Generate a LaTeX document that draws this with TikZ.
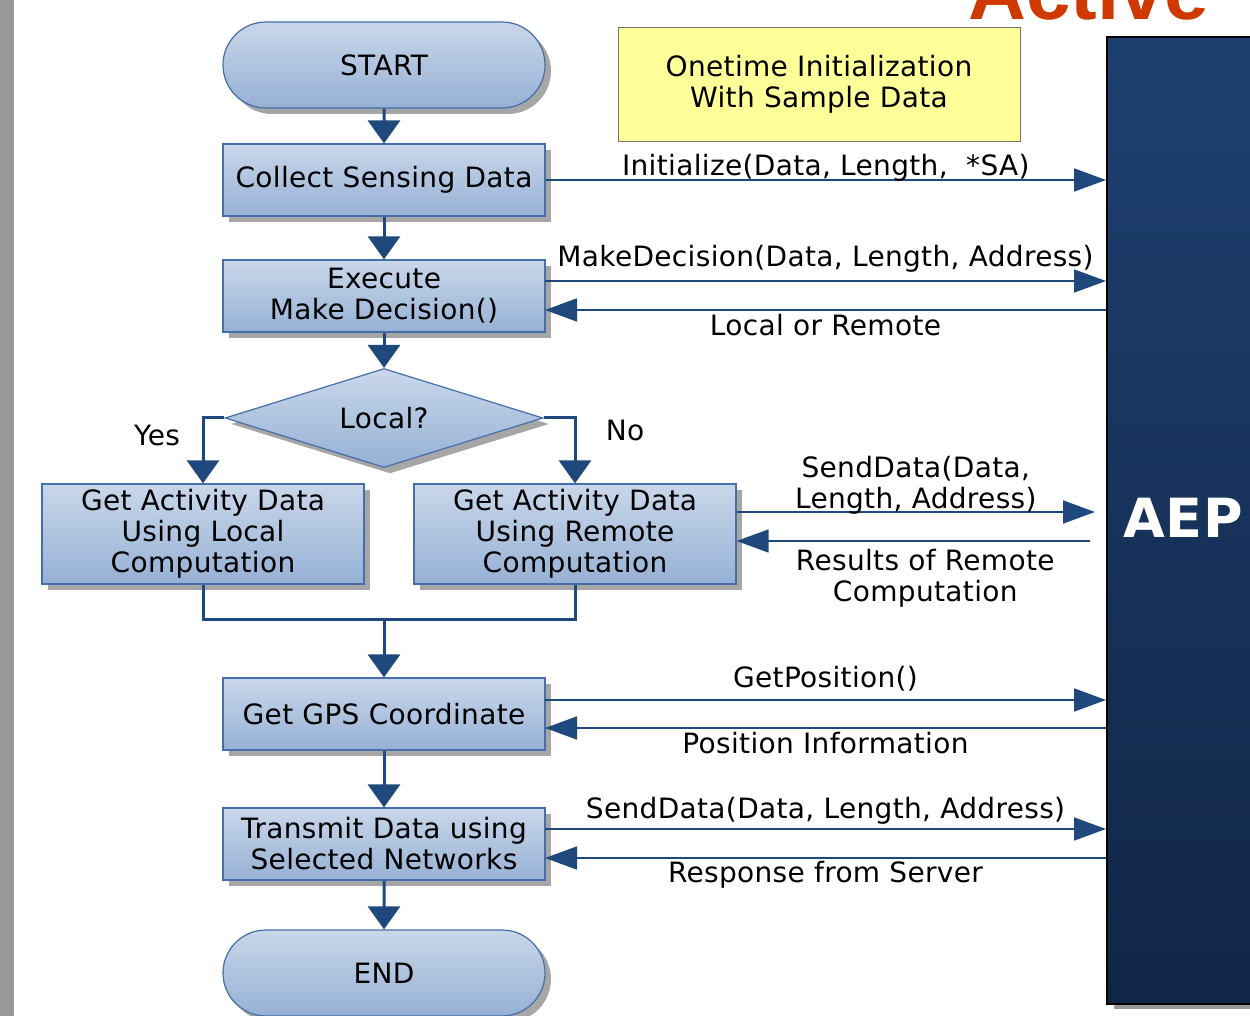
\documentclass[tikz,border=0pt]{standalone}
\usepackage{fontspec}
\setmainfont[LetterSpace=1.2]{DejaVu Sans}
\newfontfamily\titlefont{Liberation Sans}
\usetikzlibrary{arrows.meta}
\usetikzlibrary{shapes.geometric}
\usetikzlibrary{shapes.misc}
\usetikzlibrary{shadows}
\usetikzlibrary{positioning}
\definecolor{flowblue}{RGB}{31,73,125}
\definecolor{edgeblue}{RGB}{70,110,170}
\definecolor{boxtop}{RGB}{201,215,234}
\definecolor{boxbottom}{RGB}{150,177,213}
\definecolor{notefill}{RGB}{255,255,153}
\definecolor{aeptop}{RGB}{30,64,112}
\definecolor{aepbottom}{RGB}{17,38,70}
\definecolor{titlered}{RGB}{207,57,0}
\definecolor{sidegray}{RGB}{153,153,153}
\tikzset{flow/.style = {draw=flowblue, line width=1.5pt, -{Triangle[length=11.5pt, width=16pt]}}}
\tikzset{joinline/.style = {draw=flowblue, line width=1.5pt}}
\tikzset{msg/.style = {draw=flowblue, line width=0.8pt, -{Triangle[length=16pt, width=11.5pt]}}}
\tikzset{boxed/.style = {draw=edgeblue, line width=0.6pt, top color=boxtop, bottom color=boxbottom,
                         drop shadow={shadow xshift=3pt, shadow yshift=-3pt, fill=black, opacity=0.35},
                         align=center, font=\fontsize{14}{15.5}\selectfont, inner sep=0}}
\tikzset{procbox/.style = {boxed, rectangle, minimum width=161pt, minimum height=36pt}}
\tikzset{tallbox/.style = {procbox, minimum height=50pt}}
\tikzset{termbox/.style = {boxed, rounded rectangle, minimum width=161pt, minimum height=43pt}}
\tikzset{decidebox/.style = {boxed, diamond, aspect=3.2, minimum width=159pt, minimum height=49.5pt}}
\tikzset{notebox/.style = {draw=black!55, fill=notefill, align=center, font=\fontsize{14}{15.5}\selectfont,
                           minimum width=201pt, minimum height=57pt}}
\tikzset{msglabel/.style = {align=center, font=\fontsize{14}{15.5}\selectfont, inner sep=4pt}}

\begin{document}
\begin{tikzpicture}[x=0.5pt, y=-0.5pt]
    \useasboundingbox (0, 0) rectangle (1250, 1016);
    \clip (0, 0) rectangle (1250, 1016);

    \fill [sidegray] (0, 0) rectangle (14, 1016);

    \node [anchor=base west, inner sep=0, text=titlered, font=\titlefont\bfseries\fontsize{40}{40}\selectfont] (title) at (968, 20) {Active};

    \node [anchor=north west, draw=black, line width=1pt, top color=aeptop, bottom color=aepbottom,
           minimum width=200pt, minimum height=483.5pt,
           drop shadow={shadow xshift=3.5pt, shadow yshift=-2.5pt, fill=black, opacity=0.4}] (aep) at (1106, 36) {};
    \node [anchor=west, inner sep=0, text=white, font=\bfseries\fontsize{27}{27}\selectfont] (aeptext) at (1123, 518) {AEP};

    \node [notebox] (onetime) at (819, 84) {Onetime Initialization\\With Sample Data};

    \node [termbox] (start) at (384, 65) {START};
    \node [procbox] (collect) at (384, 180) {Collect Sensing Data};
    \node [procbox] (execute) at (384, 296) {Execute\\Make Decision()};
    \node [decidebox] (local) at (384, 418) {Local?};
    \node [tallbox] (getlocal) at (203, 534) {Get Activity Data\\Using Local\\Computation};
    \node [tallbox] (getremote) at (575, 534) {Get Activity Data\\Using Remote\\Computation};
    \node [procbox] (gps) at (384, 714) {Get GPS Coordinate};
    \node [procbox] (transmit) at (384, 844) {Transmit Data using\\Selected Networks};
    \node [termbox] (end) at (384, 973) {END};

    \draw [flow] (start) -- (collect);
    \draw [flow] (collect) -- (execute);
    \draw [flow] (execute) -- (local);
    \draw [flow] (local.west) -| (getlocal.north);
    \draw [flow] (local.east) -| (getremote.north);
    \node [msglabel] (yes) at (157, 435) {Yes};
    \node [msglabel] (no) at (625, 430) {No};

    \coordinate (merge) at (384, 620);
    \draw [joinline] (getlocal.south) |- (merge) -| (getremote.south);
    \draw [flow] (merge) -- (gps);
    \draw [flow] (gps) -- (transmit);
    \draw [flow] (transmit) -- (end);

    \draw [msg] (collect.east) -- (collect -| aep.west)
        node [msglabel, above, midway, inner sep=1pt, yshift=-2pt] (initlbl) {Initialize(Data, Length,\ \ *SA)};

    \coordinate (decout) at (545, 281);
    \coordinate (decin) at (545, 310);
    \draw [msg] (decout) -- (decout -| aep.west)
        node [msglabel, above, midway] (declbl) {MakeDecision(Data, Length, Address)};
    \draw [msg] (decin -| aep.west) -- (decin)
        node [msglabel, below, midway, inner sep=1.5pt] (lorlbl) {Local or Remote};

    \coordinate (sendend) at (1095, 512);
    \coordinate (resstart) at (1090, 541);
    \draw [msg] (getremote.east |- sendend) -- (sendend)
        node [msglabel, above, midway, inner sep=0pt, yshift=-1.5pt] (sendlbl) {SendData(Data,\\Length, Address)};
    \draw [msg] (resstart) -- (getremote.east |- resstart)
        node [msglabel, below, midway, inner sep=3.75pt, xshift=6pt] (reslbl) {Results of Remote\\Computation};

    \coordinate (gpsout) at (545, 700);
    \coordinate (gpsin) at (545, 728);
    \draw [msg] (gpsout) -- (gpsout -| aep.west)
        node [msglabel, above, midway] (poslbl) {GetPosition()};
    \draw [msg] (gpsin -| aep.west) -- (gpsin)
        node [msglabel, below, midway, inner sep=1.5pt] (infolbl) {Position Information};

    \coordinate (txout) at (545, 829);
    \coordinate (txin) at (545, 858);
    \draw [msg] (txout) -- (txout -| aep.west)
        node [msglabel, above, midway, yshift=-2pt] (txlbl) {SendData(Data, Length, Address)};
    \draw [msg] (txin -| aep.west) -- (txin)
        node [msglabel, below, midway, inner sep=1pt] (resplbl) {Response from Server};
  \end{tikzpicture}
\end{document}
